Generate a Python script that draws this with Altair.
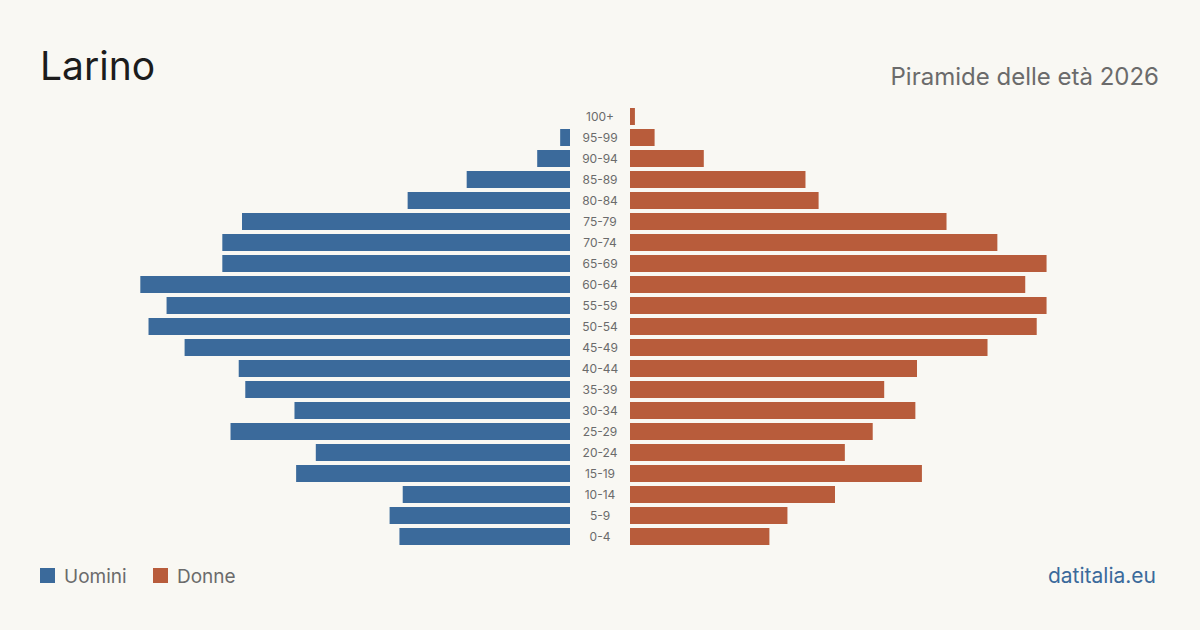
import altair as alt
import pandas as pd

# Age classes, top to bottom
ages = ["100+", "95-99", "90-94", "85-89", "80-84", "75-79", "70-74", "65-69",
        "60-64", "55-59", "50-54", "45-49", "40-44", "35-39", "30-34", "25-29",
        "20-24", "15-19", "10-14", "5-9", "0-4"]

# Residents by age class
uomini = [0, 6, 20, 63, 99, 200, 212, 212, 262, 246, 257, 235, 202, 198, 168,
          207, 155, 167, 102, 110, 104]
donne = [3, 15, 45, 107, 115, 193, 224, 254, 241, 254, 248, 218, 175, 155, 174,
         148, 131, 178, 125, 96, 85]

title_text = ["Larino"]
subtitle_text = ["Piramide delle età 2026"]
legend_labels = ["Uomini", "Donne"]
source_text = ["datitalia.eu"]

BLUE = "#3b6a9b"
RED = "#b85c3b"
BG = "#f9f8f3"
GREY = "#6b6b6b"
FONT = "Inter"

# Layout: plot area 1120 x 441, a 60 px gutter for the age labels in the middle
W, H = 1120, 441
HALF = 530          # width of each half
GAP = 60            # central gutter
PX_PER = 1.64       # pixels per resident
TOP = 106

left_max = HALF / PX_PER
right_span = (W - HALF) / PX_PER

df = pd.DataFrame({"age": ages, "uomini": uomini, "donne": donne})

y_enc = alt.Y("age:N", sort=ages, axis=None,
              scale=alt.Scale(paddingInner=0.19, paddingOuter=0.095))

men = alt.Chart(df).mark_bar(color=BLUE).encode(
    x=alt.X("uomini:Q", axis=None,
            scale=alt.Scale(domain=[left_max, -right_span], nice=False, zero=False)),
    x2=alt.datum(0),
    y=y_enc,
)

women = alt.Chart(df).mark_bar(color=RED).encode(
    x=alt.X("donne:Q", axis=None,
            scale=alt.Scale(domain=[-right_span, left_max], nice=False, zero=False)),
    x2=alt.datum(0),
    y=y_enc,
)

labels = alt.Chart(df).mark_text(font=FONT, fontSize=12, color=GREY,
                                 align="center", baseline="middle").encode(
    x=alt.value(HALF + GAP / 2),
    y=y_enc,
    text="age:N",
)

title = alt.Chart(pd.DataFrame({"t": title_text})).mark_text(
    font=FONT, fontSize=39, color="#1c1c1c", align="left", baseline="alphabetic"
).encode(x=alt.value(0), y=alt.value(80 - TOP), text="t:N")

subtitle = alt.Chart(pd.DataFrame({"t": subtitle_text})).mark_text(
    font=FONT, fontSize=24, color=GREY, align="right", baseline="alphabetic"
).encode(x=alt.value(W - 1), y=alt.value(85 - TOP), text="t:N")

leg_df = pd.DataFrame({"label": legend_labels, "color": [BLUE, RED],
                       "pos": [0, 113]})

legend_sq = alt.Chart(leg_df).mark_square(size=225, opacity=1, filled=True).encode(
    x=alt.X("pos:Q", axis=None, scale=alt.Scale(domain=[0, W], range=[7.5, W + 7.5])),
    y=alt.value(575.5 - TOP),
    color=alt.Color("color:N", scale=None),
)

legend_txt = alt.Chart(leg_df).mark_text(
    font=FONT, fontSize=19, color=GREY, align="left", baseline="alphabetic"
).encode(
    x=alt.X("pos:Q", axis=None, scale=alt.Scale(domain=[0, W], range=[24, W + 24])),
    y=alt.value(583 - TOP),
    text="label:N",
)

source = alt.Chart(pd.DataFrame({"t": source_text})).mark_text(
    font=FONT, fontSize=21, color=BLUE, align="right", baseline="alphabetic"
).encode(x=alt.value(W - 4), y=alt.value(583 - TOP), text="t:N")

chart = alt.layer(
    men, women, labels, title, subtitle, legend_sq, legend_txt, source
).resolve_scale(x="independent").properties(
    width=W, height=H,
    background=BG,
    padding={"left": 40, "top": TOP, "right": 40, "bottom": 630 - TOP - H},
    autosize=alt.AutoSizeParams(type="none"),
).configure_view(stroke=None)

chart.save("out.html", embed_options={"renderer": "svg", "actions": False})
